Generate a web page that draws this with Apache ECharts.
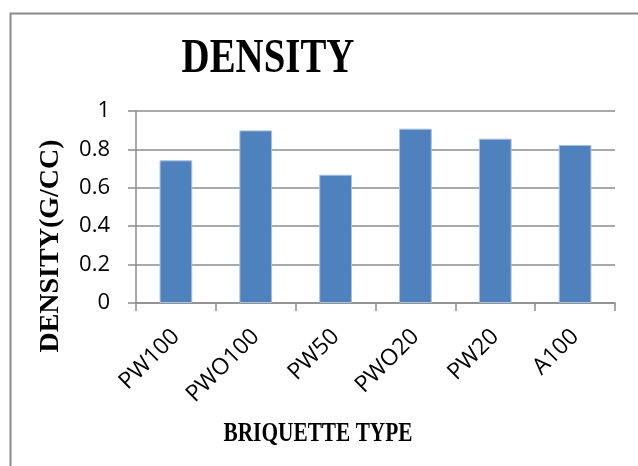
<!DOCTYPE html>
<html>
<head>
<meta charset="utf-8">
<script src="https://cdn.jsdelivr.net/npm/echarts@6/dist/echarts.min.js"></script>
<style>
  html, body { margin: 0; padding: 0; background: #fff; }
  #chart { width: 638px; height: 466px; }
</style>
</head>
<body>
<div id="chart"></div>
<script>
// briquette types and measured density (g/cc)
const categories = ['PW100', 'PWO100', 'PW50', 'PWO20', 'PW20', 'A100'];
const densityValues = [0.743, 0.899, 0.668, 0.908, 0.856, 0.823];
const yTicks = { min: 0, max: 1, interval: 0.2 };

const chart = echarts.init(document.getElementById('chart'));

const serifBold = (size) => ({
  fontFamily: 'Liberation Serif',
  fontWeight: 'bold',
  fontSize: size,
  fill: '#000',
  align: 'center',
  verticalAlign: 'middle'
});

const option = {
  animation: false,
  graphic: [
    {
      // outer chart frame (only top/left edges visible in the crop)
      type: 'rect',
      shape: { x: 10.5, y: 13.5, width: 800, height: 600 },
      style: { fill: 'none', stroke: '#8a8a8a', lineWidth: 2 },
      silent: true
    },
    {
      type: 'text',
      x: 268, y: 60,
      scaleX: 0.81,
      style: Object.assign({ text: 'DENSITY' }, serifBold(48))
    },
    {
      type: 'text',
      x: 51, y: 246,
      rotation: Math.PI / 2,
      style: Object.assign({ text: 'DENSITY(G/CC)' }, serifBold(28))
    },
    {
      type: 'text',
      x: 318, y: 434,
      scaleX: 0.79,
      style: Object.assign({ text: 'BRIQUETTE TYPE' }, serifBold(27))
    }
  ],
  grid: {
    left: 136,
    right: 23,
    top: 111,
    bottom: 163
  },
  xAxis: {
    type: 'category',
    data: categories,
    axisLine: { lineStyle: { color: '#8c8c8c', width: 1.5 } },
    axisTick: { show: true, length: 8, lineStyle: { color: '#8c8c8c', width: 1.5 } },
    axisLabel: {
      rotate: 45,
      margin: 30,
      fontFamily: 'Open Sans',
      fontSize: 23,
      color: '#000'
    }
  },
  yAxis: {
    type: 'value',
    min: yTicks.min,
    max: yTicks.max,
    interval: yTicks.interval,
    axisLine: { show: true, lineStyle: { color: '#8c8c8c', width: 1.5 } },
    axisTick: { show: true, length: 8, lineStyle: { color: '#8c8c8c', width: 1.5 } },
    axisLabel: {
      margin: 26,
      fontFamily: 'Open Sans',
      fontSize: 22,
      color: '#000'
    },
    splitLine: { lineStyle: { color: '#8c8c8c', width: 1.5 } }
  },
  series: [{
    type: 'bar',
    data: densityValues,
    barWidth: '41%',
    itemStyle: {
      color: '#4F81BD',
      borderColor: '#a9c0de',
      borderWidth: 1
    }
  }]
};

chart.setOption(option);
</script>
</body>
</html>
